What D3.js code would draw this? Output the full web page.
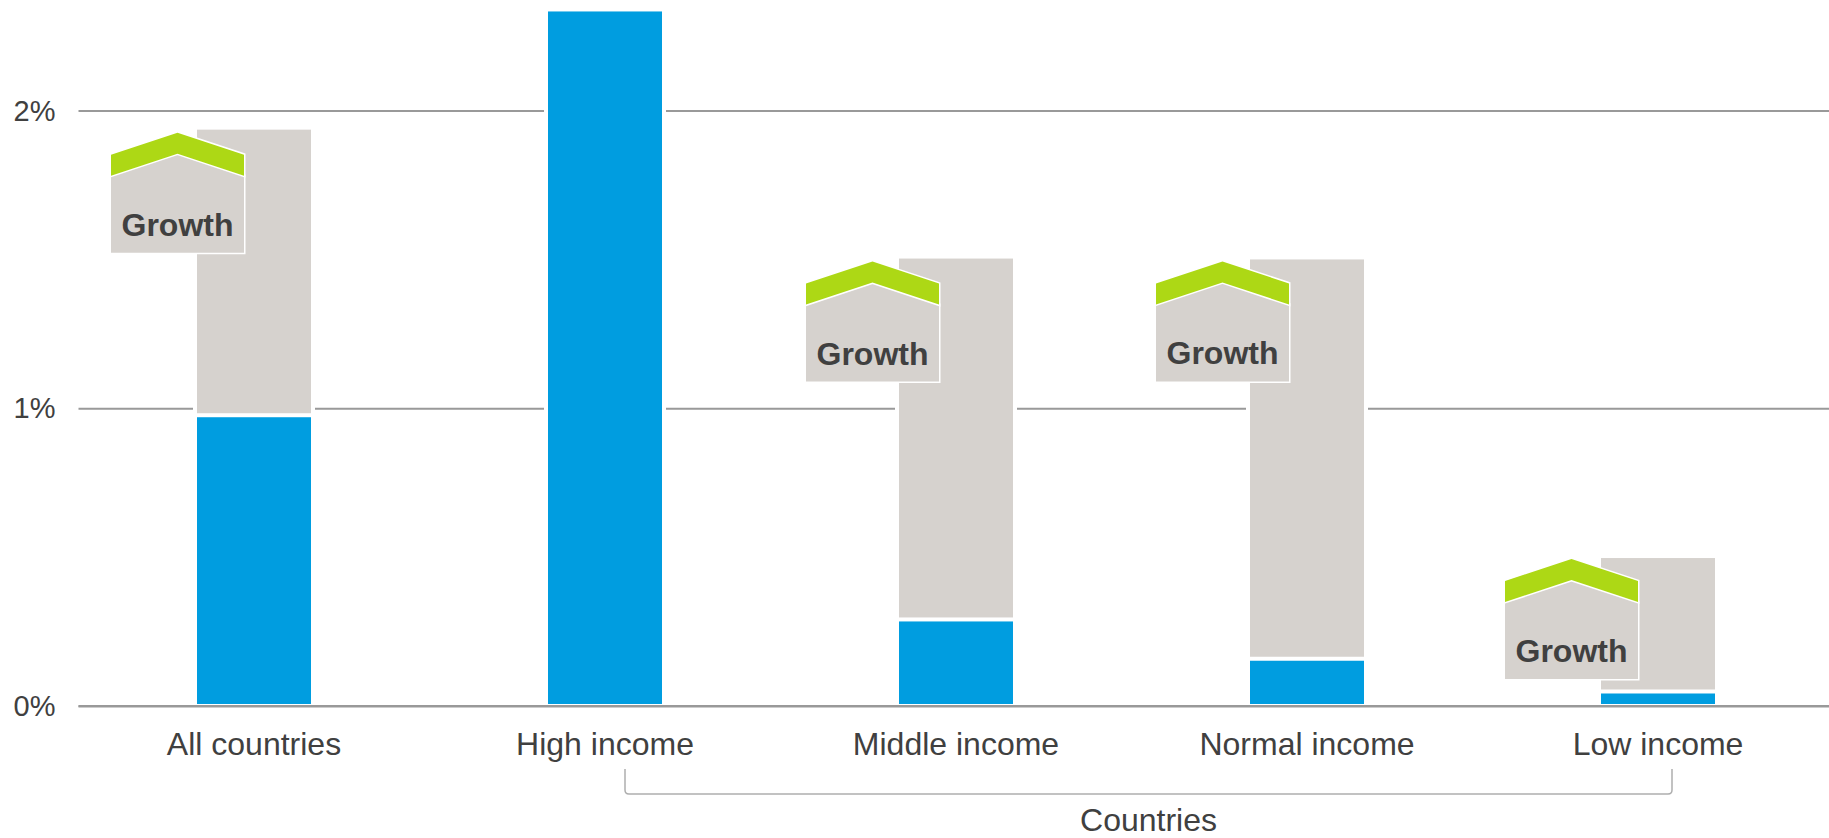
<!DOCTYPE html>
<html>
<head>
<meta charset="utf-8">
<script src="https://cdn.jsdelivr.net/npm/d3@7/dist/d3.min.js"></script>
<style>
  html, body { margin: 0; padding: 0; background: #fff; }
  svg { display: block; }
  text { font-family: "Liberation Sans", Arial, sans-serif; fill: #404040; }
</style>
</head>
<body>
<svg id="chart" width="1829" height="838"></svg>
<script>
// Income groups and their percentage values
const categories = ["All countries", "High income", "Middle income", "Normal income", "Low income"];
const currentShare = [0.97, 2.333, 0.284, 0.152, 0.042];
const growthShare = [0.966, 0, 1.219, 1.348, 0.455];
const yTicks = [0, 1, 2];
const growthLabel = "Growth";
const bracketLabel = "Countries";

const width = 1829, height = 838;
const margin = { left: 78.5, right: 0 };
const y0 = 706, yPerPoint = 297.7;
const barWidth = 114, halo = 4, segmentGap = 4;

// Nudge of each growth badge from the top centre of its bar
const badgeOffsetX = [-76.5, 0, -83.5, -84.5, -86.5];
const badgeOffsetY = [3, 0, 3, 2, 1];

const svg = d3.select("#chart");

const x = d3.scalePoint()
  .domain(categories)
  .range([254, 1658]);

const y = d3.scaleLinear()
  .domain([0, 2])
  .range([y0, y0 - 2 * yPerPoint]);

// Horizontal gridlines and percentage labels
const yAxis = d3.axisLeft(y)
  .tickValues(yTicks)
  .tickFormat(d => d + "%")
  .tickSize(width - margin.left)
  .tickPadding(23);

const axisG = svg.append("g")
  .attr("transform", `translate(${width},0)`)
  .call(yAxis);
axisG.select(".domain").remove();
axisG.selectAll("line").attr("stroke", "#999").attr("stroke-width", 2);
axisG.selectAll("text")
  .attr("font-size", 29)
  .attr("dy", "0.33em")
  .style("font-family", '"Liberation Sans", Arial, sans-serif')
  .style("fill", "#404040");

const stackTop = i => y(currentShare[i] + growthShare[i]);

// Stacked bars; a white backing breaks the gridlines around each stack
const barG = svg.append("g")
  .selectAll("g")
  .data(categories)
  .join("g");

barG.append("rect")
  .attr("x", d => x(d) - barWidth / 2 - halo)
  .attr("width", barWidth + 2 * halo)
  .attr("y", (d, i) => stackTop(i) - halo)
  .attr("height", (d, i) => y(0) - stackTop(i) + halo)
  .attr("fill", "#fff");

barG.filter((d, i) => growthShare[i] > 0)
  .append("rect")
  .attr("x", d => x(d) - barWidth / 2)
  .attr("width", barWidth)
  .attr("y", d => stackTop(categories.indexOf(d)))
  .attr("height", d => {
    const i = categories.indexOf(d);
    return y(currentShare[i]) - stackTop(i) - segmentGap;
  })
  .attr("fill", "#d6d2ce");

barG.append("rect")
  .attr("x", d => x(d) - barWidth / 2)
  .attr("width", barWidth)
  .attr("y", (d, i) => y(currentShare[i]))
  .attr("height", (d, i) => y(0) - y(currentShare[i]) - 2)
  .attr("fill", "#009de0");

// Baseline drawn over the white backing
svg.append("line")
  .attr("x1", margin.left).attr("x2", width)
  .attr("y1", y(0)).attr("y2", y(0))
  .attr("stroke", "#999").attr("stroke-width", 2);

// Category labels
svg.append("g")
  .selectAll("text")
  .data(categories)
  .join("text")
  .attr("x", d => x(d))
  .attr("y", 755)
  .attr("text-anchor", "middle")
  .attr("font-size", 32)
  .text(d => d);

// House-shaped growth badges sitting at the top of each stack
const badgeW = 133, eave = 22, chevron = 21, bodyBottom = 120;
const badges = categories
  .map((d, i) => ({ d, i }))
  .filter(o => growthShare[o.i] > 0);

const badge = svg.append("g")
  .selectAll("g")
  .data(badges)
  .join("g")
  .attr("transform", o => `translate(${x(o.d) + badgeOffsetX[o.i]},${stackTop(o.i) + badgeOffsetY[o.i]})`);

const hw = badgeW / 2;
badge.append("path")
  .attr("d", `M${-hw},${eave + chevron} L0,${chevron} L${hw},${eave + chevron} V${bodyBottom} H${-hw} Z`)
  .attr("fill", "#d6d2ce")
  .attr("stroke", "#fff")
  .attr("stroke-width", 3)
  .attr("paint-order", "stroke");

badge.append("path")
  .attr("d", `M${-hw},${eave} L0,0 L${hw},${eave} V${eave + chevron} L0,${chevron} L${-hw},${eave + chevron} Z`)
  .attr("fill", "#add815")
  .attr("stroke", "#fff")
  .attr("stroke-width", 3)
  .attr("paint-order", "stroke");

badge.append("text")
  .attr("x", 0)
  .attr("y", 103)
  .attr("text-anchor", "middle")
  .attr("font-size", 32)
  .attr("font-weight", 700)
  .text(growthLabel);

// Bracket grouping the four income levels
const bracketLeft = x(categories[1]) + 20;
const bracketRight = x(categories[4]) + 14;
const bracketTop = 769, bracketBottom = 794, r = 4;
svg.append("path")
  .attr("d", `M${bracketLeft},${bracketTop} V${bracketBottom - r} Q${bracketLeft},${bracketBottom} ${bracketLeft + r},${bracketBottom} H${bracketRight - r} Q${bracketRight},${bracketBottom} ${bracketRight},${bracketBottom - r} V${bracketTop}`)
  .attr("fill", "none")
  .attr("stroke", "#aeaeae")
  .attr("stroke-width", 1.5);

svg.append("text")
  .attr("x", (bracketLeft + bracketRight) / 2)
  .attr("y", 831)
  .attr("text-anchor", "middle")
  .attr("font-size", 32)
  .text(bracketLabel);
</script>
</body>
</html>
